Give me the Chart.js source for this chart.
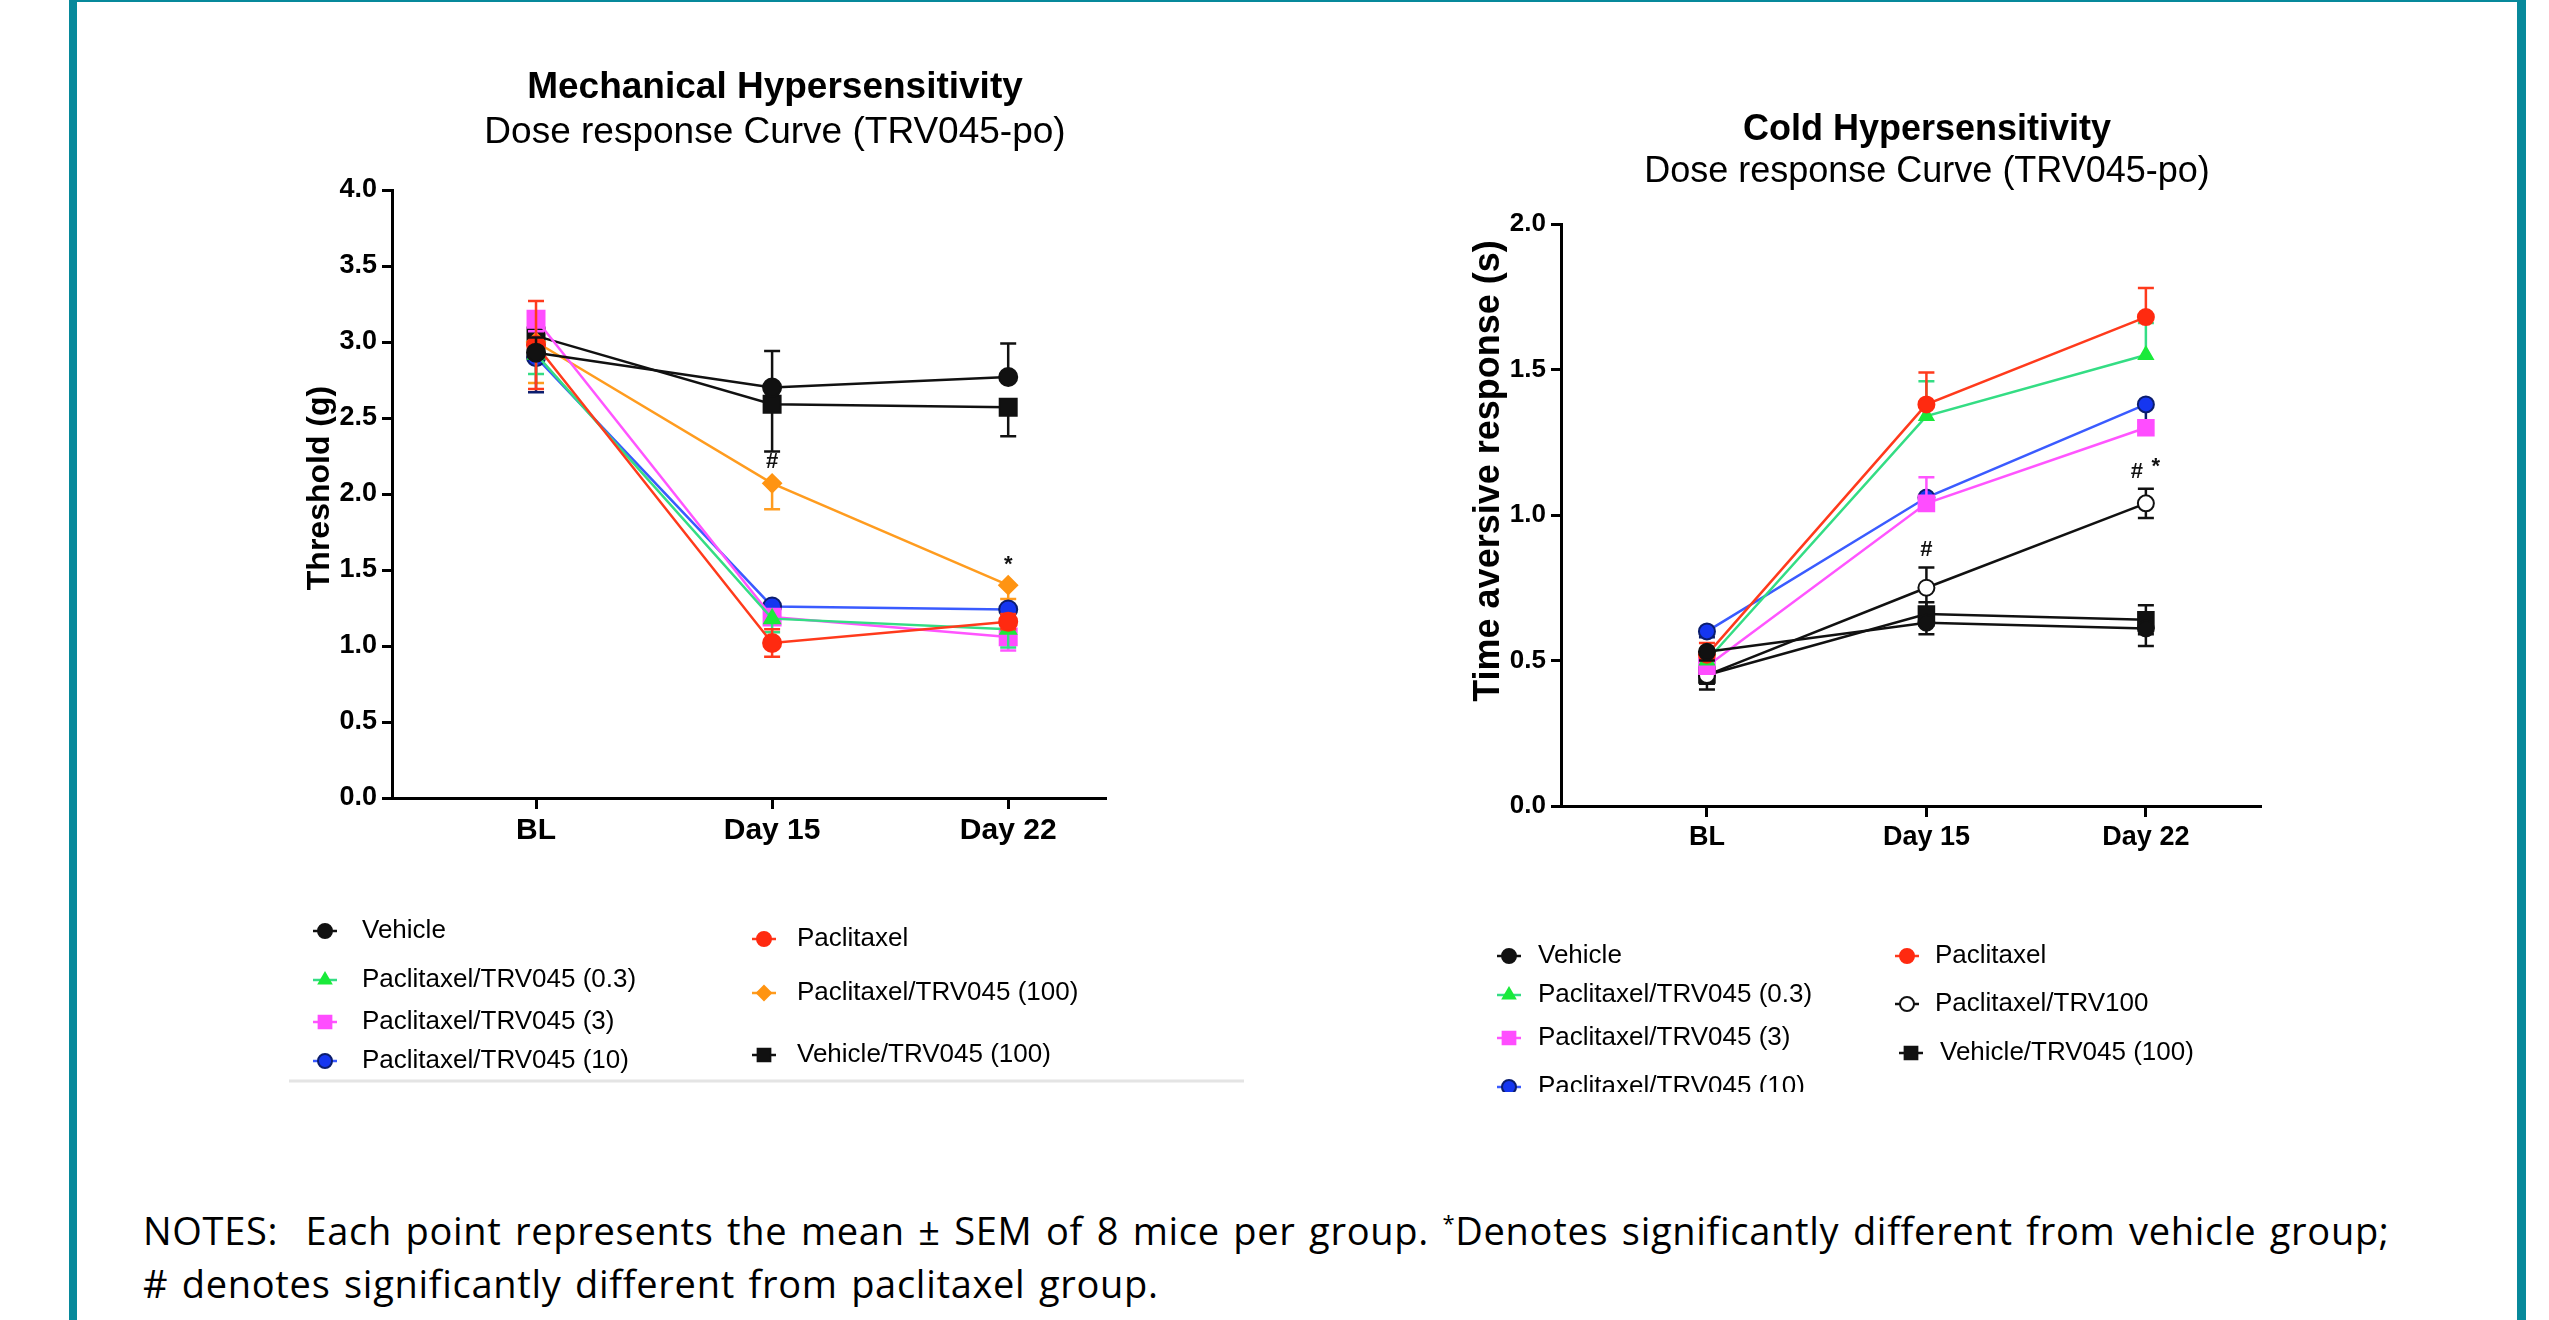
<!DOCTYPE html>
<html>
<head>
<meta charset="utf-8">
<title>TRV045 dose response</title>
<script src="https://cdn.jsdelivr.net/npm/chart.js@4.4.0/dist/chart.umd.min.js"></script>
<style>
  html, body { margin: 0; padding: 0; background: #fff; }
  #page { position: relative; width: 2549px; height: 1320px; overflow: hidden; background: #fff; }
  #frame { position: absolute; left: 69px; top: 0; width: 2457px; height: 1320px; box-sizing: border-box;
           border-left: 8px solid #07899b; border-right: 9px solid #07899b; border-top: 2px solid #07899b; }
  canvas { position: absolute; }
  #mech { left: 200px; top: 40px; }
  #cold { left: 1370px; top: 60px; }
  #notes { position: absolute; left: 143px; top: 1204px; font-family: 'Open Sans', 'Noto Sans', sans-serif;
           font-size: 38px; line-height: 53px; letter-spacing: 0.7px; word-spacing: 3px; color: #000; white-space: nowrap; }
  #notes sup { font-size: 22px; vertical-align: 14px; line-height: 0; }
</style>
</head>
<body>
<div id="page">
  <div id="frame"></div>
  <canvas id="mech" width="1150" height="1060"></canvas>
  <canvas id="cold" width="1116" height="1032"></canvas>
  <div id="notes">NOTES:&nbsp; Each point represents the mean ± SEM of 8 mice per group. <sup>*</sup>Denotes significantly different from vehicle group;<br># denotes significantly different from paclitaxel group.</div>
</div>
<script>
// categories and tick labels
const days = ['BL', 'Day 15', 'Day 22'];
const mechTicks = [0, 0.5, 1, 1.5, 2, 2.5, 3, 3.5, 4];
const coldTicks = [0, 0.5, 1, 1.5, 2];

// Mechanical hypersensitivity - threshold (g), mean
const mechVehicle    = [2.93, 2.70, 2.77];
const mechPaclitaxel = [2.98, 1.02, 1.16];
const mechTrv03      = [2.92, 1.18, 1.11];
const mechTrv3       = [3.15, 1.19, 1.06];
const mechTrv10      = [2.90, 1.26, 1.24];
const mechTrv100     = [3.00, 2.07, 1.40];
const mechVehTrv100  = [3.04, 2.59, 2.57];
// SEM
const mechVehicleSem    = [0.10, 0.24, 0.22];
const mechPaclitaxelSem = [0.29, 0.09, 0.05];
const mechTrv03Sem      = [0.13, 0.09, 0.12];
const mechTrv3Sem       = [0.08, 0.05, 0.09];
const mechTrv10Sem      = [0.23, 0.05, 0.17];
const mechTrv100Sem     = [0.27, 0.17, 0.09];
const mechVehTrv100Sem  = [0.06, 0.31, 0.19];

// Cold hypersensitivity - time aversive response (s), mean
const coldVehicle    = [0.53, 0.63, 0.61];
const coldPaclitaxel = [0.52, 1.38, 1.68];
const coldTrv03      = [0.50, 1.34, 1.55];
const coldTrv3       = [0.48, 1.04, 1.30];
const coldTrv10      = [0.60, 1.06, 1.38];
const coldPacTrv100  = [0.45, 0.75, 1.04];
const coldVehTrv100  = [0.45, 0.66, 0.64];
// SEM
const coldVehicleSem    = [0.03, 0.04, 0.06];
const coldPaclitaxelSem = [0.04, 0.11, 0.10];
const coldTrv03Sem      = [0.03, 0.12, 0.11];
const coldTrv3Sem       = [0.03, 0.09, 0.02];
const coldTrv10Sem      = [0.02, 0.03, 0.08];
const coldPacTrv100Sem  = [0.03, 0.07, 0.05];
const coldVehTrv100Sem  = [0.05, 0.04, 0.05];

const FONT = "'Liberation Sans', Arial, sans-serif";

// look of each group
const looks = {
  black:  { line: '#111111', fill: '#111111', border: '#111111', shape: 'circle' },
  red:    { line: '#ff3a1c', fill: '#ff2a10', border: '#ff2a10', shape: 'circle' },
  green:  { line: '#34dd84', fill: '#1aea3a', border: '#1aea3a', shape: 'triangle' },
  pink:   { line: '#ff55ff', fill: '#ff4dff', border: '#ff4dff', shape: 'rect' },
  blue:   { line: '#3a5bff', fill: '#1536f0', border: '#0b1d6e', shape: 'circle', err: '#0b1d6e' },
  orange: { line: '#ff9c1f', fill: '#ff9412', border: '#ff9412', shape: 'rectRot' },
  square: { line: '#111111', fill: '#111111', border: '#111111', shape: 'rect' },
  open:   { line: '#111111', fill: '#ffffff', border: '#111111', shape: 'circle' }
};

function series(label, values, sem, dir, look, r) {
  return {
    label: label,
    data: values.map((v, i) => ({ x: i, y: v })),
    sem: sem,
    errDir: dir,
    errColor: look.err || look.line,
    borderColor: look.line,
    backgroundColor: look.fill,
    pointBackgroundColor: look.fill,
    pointBorderColor: look.border,
    pointStyle: look.shape,
    pointRadius: look.shape === 'rect' ? r + 3 : r,
    pointBorderWidth: 2,
    borderWidth: 2.5,
    tension: 0
  };
}

// error bars drawn under each dataset
const errorBars = {
  id: 'errorBars',
  beforeDatasetDraw(chart, args) {
    const ds = chart.data.datasets[args.index];
    if (!ds.sem) return;
    const y = chart.scales.y;
    const ctx = chart.ctx;
    ctx.save();
    ctx.strokeStyle = ds.errColor;
    ctx.lineWidth = 2.5;
    args.meta.data.forEach((pt, i) => {
      const v = ds.data[i].y, e = ds.sem[i];
      const top = ds.errDir === 'down' ? v : v + e;
      const bot = ds.errDir === 'up' ? v : v - e;
      const yt = y.getPixelForValue(top), yb = y.getPixelForValue(bot);
      ctx.beginPath();
      ctx.moveTo(pt.x, yt); ctx.lineTo(pt.x, yb);
      if (ds.errDir !== 'down') { ctx.moveTo(pt.x - 8, yt); ctx.lineTo(pt.x + 8, yt); }
      if (ds.errDir !== 'up') { ctx.moveTo(pt.x - 8, yb); ctx.lineTo(pt.x + 8, yb); }
      ctx.stroke();
    });
    ctx.restore();
  }
};

// significance marks (# and *) above a point
function marksPlugin(marks) {
  return {
    id: 'marks',
    afterDatasetsDraw(chart) {
      const ctx = chart.ctx;
      ctx.save();
      ctx.fillStyle = '#111';
      ctx.font = 'bold 22px ' + FONT;
      ctx.textAlign = 'center';
      ctx.textBaseline = 'bottom';
      marks.forEach(m => {
        const di = chart.data.datasets.findIndex(d => d.label === m.series);
        const ds = chart.data.datasets[di];
        const pt = chart.getDatasetMeta(di).data[m.index];
        let base = pt.y - ds.pointRadius;
        if (ds.errDir !== 'down') {
          base = Math.min(base, chart.scales.y.getPixelForValue(ds.data[m.index].y + ds.sem[m.index]));
        }
        ctx.fillText(m.text, pt.x + (m.dx || 0), base - 6 + (m.dy || 0));
      });
      ctx.restore();
    }
  };
}

// chart titles and y axis title, placed like the original figure
function textPlugin(texts) {
  return {
    id: 'texts',
    afterDraw(chart) {
      const ctx = chart.ctx;
      ctx.save();
      ctx.fillStyle = '#000';
      ctx.textAlign = 'center';
      ctx.textBaseline = 'middle';
      texts.forEach(t => {
        ctx.font = t.font;
        ctx.save();
        ctx.translate(t.x, t.y);
        if (t.rotate) ctx.rotate(-Math.PI / 2);
        ctx.fillText(t.text, 0, 0);
        ctx.restore();
      });
      ctx.restore();
    }
  };
}

function drawMarker(ctx, shape, x, y, r) {
  ctx.beginPath();
  if (shape === 'circle') {
    ctx.arc(x, y, r, 0, Math.PI * 2);
  } else if (shape === 'rect') {
    const s = r * Math.SQRT1_2;
    ctx.rect(x - s, y - s, 2 * s, 2 * s);
  } else if (shape === 'rectRot') {
    ctx.moveTo(x, y - r); ctx.lineTo(x + r, y); ctx.lineTo(x, y + r); ctx.lineTo(x - r, y);
    ctx.closePath();
  } else if (shape === 'triangle') {
    ctx.moveTo(x, y - r); ctx.lineTo(x + r * 0.87, y + r * 0.5); ctx.lineTo(x - r * 0.87, y + r * 0.5);
    ctx.closePath();
  }
  ctx.fill();
  ctx.stroke();
}

// two column legend like the original figure
function legendPlugin(items, rule) {
  return {
    id: 'sideLegend',
    afterDraw(chart) {
      const ctx = chart.ctx;
      ctx.save();
      if (rule) {
        ctx.strokeStyle = '#e4e4e4';
        ctx.lineWidth = 3;
        ctx.beginPath();
        ctx.moveTo(rule.x1, rule.y); ctx.lineTo(rule.x2, rule.y);
        ctx.stroke();
      }
      items.forEach(it => {
        const ds = chart.data.datasets.find(d => d.label === it.label);
        ctx.strokeStyle = ds.borderColor;
        ctx.lineWidth = 2.5;
        ctx.beginPath();
        ctx.moveTo(it.mx - 12, it.y); ctx.lineTo(it.mx + 12, it.y);
        ctx.stroke();
        ctx.fillStyle = ds.pointBackgroundColor;
        ctx.strokeStyle = ds.pointBorderColor;
        ctx.lineWidth = 2;
        drawMarker(ctx, ds.pointStyle, it.mx, it.y, ds.pointStyle === 'rect' ? 9 : 7);
        ctx.fillStyle = '#000';
        ctx.font = '26px ' + FONT;
        ctx.textBaseline = 'middle';
        ctx.textAlign = 'left';
        ctx.fillText(it.label, it.tx, it.y);
      });
      ctx.restore();
    }
  };
}

function makeChart(id, cfg) {
  return new Chart(document.getElementById(id), {
    type: 'line',
    data: { datasets: cfg.datasets },
    options: {
      responsive: false,
      animation: false,
      devicePixelRatio: 1,
      events: [],
      layout: { padding: { left: 0, top: cfg.padTop, right: cfg.padRight, bottom: cfg.padBottom } },
      plugins: {
        legend: { display: false },
        tooltip: { enabled: false },
        title: { display: false }
      },
      scales: {
        x: {
          type: 'linear', min: cfg.xMin, max: cfg.xMax,
          afterBuildTicks: s => { s.ticks = days.map((d, i) => ({ value: i })); },
          afterFit: s => { s.height = 60; },
          ticks: {
            callback: v => days[v], color: '#000', autoSkip: false, maxRotation: 0, padding: 4,
            font: { family: FONT, size: cfg.xFont, weight: 'bold' }
          },
          grid: { drawOnChartArea: false, drawTicks: true, tickLength: 11, tickWidth: 3, tickColor: '#000', color: '#000', lineWidth: 3 },
          border: { display: true, color: '#000', width: 3 }
        },
        y: {
          type: 'linear', min: 0, max: cfg.ticks[cfg.ticks.length - 1],
          afterBuildTicks: s => { s.ticks = cfg.ticks.map(v => ({ value: v })); },
          afterFit: s => { s.width = cfg.yWidth; },
          ticks: {
            callback: v => v.toFixed(1), color: '#000', padding: 5,
            font: { family: FONT, size: cfg.yFont, weight: 'bold' }
          },
          grid: { drawOnChartArea: false, drawTicks: true, tickLength: 10, tickWidth: 3, tickColor: '#000', color: '#000', lineWidth: 3 },
          border: { display: true, color: '#000', width: 3 }
        }
      }
    },
    plugins: [errorBars, marksPlugin(cfg.marks), legendPlugin(cfg.legend, cfg.rule), textPlugin(cfg.texts)]
  });
}

makeChart('mech', {
  padTop: 150, padRight: 245, padBottom: 242, xMin: -0.61, xMax: 2.41,
  ticks: mechTicks, yWidth: 192, yFont: 27, xFont: 30,
  texts: [
    { text: 'Mechanical Hypersensitivity', x: 575, y: 48, font: 'bold 37px ' + FONT },
    { text: 'Dose response Curve (TRV045-po)', x: 575, y: 93, font: '37px ' + FONT },
    { text: 'Threshold (g)', x: 120, y: 448, font: 'bold 32px ' + FONT, rotate: true }
  ],
  datasets: [
    series('Vehicle', mechVehicle, mechVehicleSem, 'up', looks.black, 9),
    series('Paclitaxel', mechPaclitaxel, mechPaclitaxelSem, 'both', looks.red, 9),
    series('Paclitaxel/TRV045 (0.3)', mechTrv03, mechTrv03Sem, 'down', looks.green, 9),
    series('Paclitaxel/TRV045 (3)', mechTrv3, mechTrv3Sem, 'down', looks.pink, 9),
    series('Paclitaxel/TRV045 (10)', mechTrv10, mechTrv10Sem, 'down', looks.blue, 9),
    series('Paclitaxel/TRV045 (100)', mechTrv100, mechTrv100Sem, 'down', looks.orange, 9),
    series('Vehicle/TRV045 (100)', mechVehTrv100, mechVehTrv100Sem, 'down', looks.square, 9)
  ],
  marks: [
    { series: 'Paclitaxel/TRV045 (100)', index: 1, text: '#', dy: 5 },
    { series: 'Paclitaxel/TRV045 (100)', index: 2, text: '*', dy: 6 }
  ],
  legend: [
    { label: 'Vehicle', mx: 125, tx: 162, y: 891 },
    { label: 'Paclitaxel/TRV045 (0.3)', mx: 125, tx: 162, y: 940 },
    { label: 'Paclitaxel/TRV045 (3)', mx: 125, tx: 162, y: 982 },
    { label: 'Paclitaxel/TRV045 (10)', mx: 125, tx: 162, y: 1021 },
    { label: 'Paclitaxel', mx: 564, tx: 597, y: 899 },
    { label: 'Paclitaxel/TRV045 (100)', mx: 564, tx: 597, y: 953 },
    { label: 'Vehicle/TRV045 (100)', mx: 564, tx: 597, y: 1015 }
  ],
  rule: { x1: 89, x2: 1044, y: 1041 }
});

makeChart('cold', {
  padTop: 164, padRight: 226, padBottom: 226, xMin: -0.665, xMax: 2.52,
  ticks: coldTicks, yWidth: 191, yFont: 26, xFont: 27,
  texts: [
    { text: 'Cold Hypersensitivity', x: 557, y: 70, font: 'bold 36px ' + FONT },
    { text: 'Dose response Curve (TRV045-po)', x: 557, y: 112, font: '36px ' + FONT },
    { text: 'Time aversive response (s)', x: 119, y: 411, font: 'bold 36px ' + FONT, rotate: true }
  ],
  datasets: [
    series('Vehicle', coldVehicle, coldVehicleSem, 'down', looks.black, 8),
    series('Paclitaxel', coldPaclitaxel, coldPaclitaxelSem, 'up', looks.red, 8),
    series('Paclitaxel/TRV045 (0.3)', coldTrv03, coldTrv03Sem, 'up', looks.green, 8),
    series('Paclitaxel/TRV045 (3)', coldTrv3, coldTrv3Sem, 'up', looks.pink, 8),
    series('Paclitaxel/TRV045 (10)', coldTrv10, coldTrv10Sem, 'down', looks.blue, 8),
    series('Paclitaxel/TRV100', coldPacTrv100, coldPacTrv100Sem, 'both', looks.open, 8),
    series('Vehicle/TRV045 (100)', coldVehTrv100, coldVehTrv100Sem, 'both', looks.square, 8)
  ],
  marks: [
    { series: 'Paclitaxel/TRV100', index: 1, text: '#' },
    { series: 'Paclitaxel/TRV100', index: 2, text: '#', dx: -9 },
    { series: 'Paclitaxel/TRV100', index: 2, text: '*', dx: 10, dy: -5 }
  ],
  legend: [
    { label: 'Vehicle', mx: 139, tx: 168, y: 896 },
    { label: 'Paclitaxel/TRV045 (0.3)', mx: 139, tx: 168, y: 935 },
    { label: 'Paclitaxel/TRV045 (3)', mx: 139, tx: 168, y: 978 },
    { label: 'Paclitaxel/TRV045 (10)', mx: 139, tx: 168, y: 1027 },
    { label: 'Paclitaxel', mx: 537, tx: 565, y: 896 },
    { label: 'Paclitaxel/TRV100', mx: 537, tx: 565, y: 944 },
    { label: 'Vehicle/TRV045 (100)', mx: 541, tx: 570, y: 993 }
  ],
  rule: null
});
</script>
</body>
</html>
